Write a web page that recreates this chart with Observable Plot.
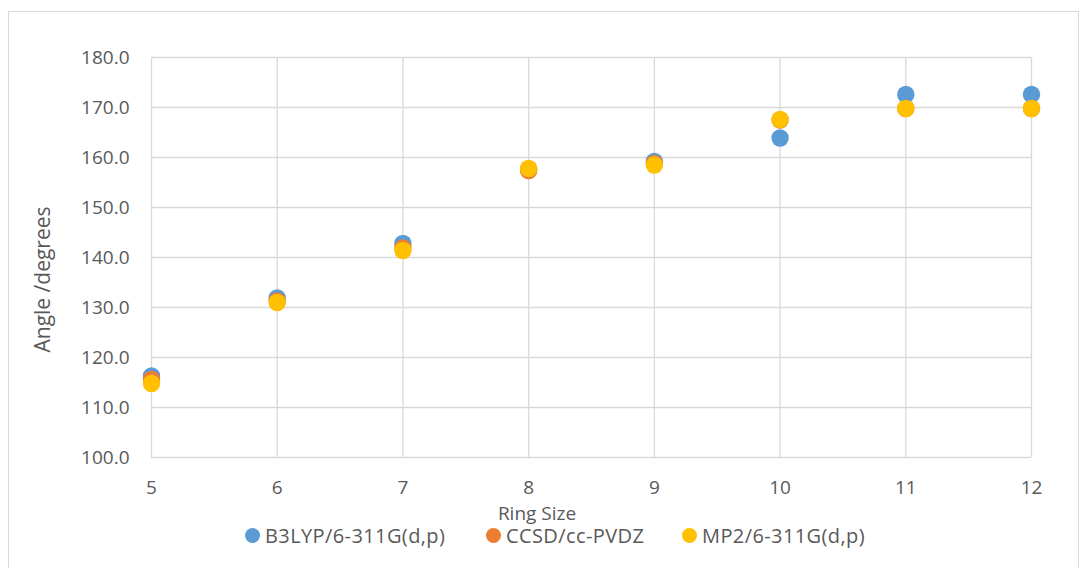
<!DOCTYPE html>
<html>
<head>
<meta charset="utf-8">
<script src="https://cdn.jsdelivr.net/npm/d3@7"></script>
<script src="https://cdn.jsdelivr.net/npm/@observablehq/plot@0.6"></script>
<style>
  html, body { margin: 0; padding: 0; background: #fff; }
  body { width: 1086px; height: 568px; position: relative; overflow: hidden; font-family: "Open Sans", "Liberation Sans", sans-serif; }
  #frame { position: absolute; left: 8px; top: 11px; width: 1071px; height: 570px; border: 1px solid #d9d9d9; box-sizing: border-box; }
  #chart { position: absolute; left: 0; top: 0; }
  #legend { position: absolute; top: 0; left: 0; width: 1086px; height: 568px; font-size: 20px; letter-spacing: 0.4px; color: #595959; }
  #legend .sw { position: absolute; width: 15px; height: 15px; border-radius: 50%; top: 528px; }
  #legend .txt { position: absolute; top: 526px; line-height: 20px; white-space: nowrap; }
</style>
</head>
<body>
<div id="frame"></div>
<div id="chart"></div>
<div id="legend"></div>
<script>
// Ring sizes and the computed angle (degrees) for each method
const ringSizes = [5, 6, 7, 8, 9, 10, 11, 12];
const b3lyp = [116.3, 131.9, 142.8, 157.6, 159.2, 163.9, 172.6, 172.6];
const ccsd  = [115.6, 131.3, 141.9, 157.4, 158.8, 167.5, 169.8, 169.8];
const mp2   = [114.8, 131.0, 141.4, 157.8, 158.5, 167.6, 169.8, 169.8];

const seriesNames  = ["B3LYP/6-311G(d,p)", "CCSD/cc-PVDZ", "MP2/6-311G(d,p)"];
const seriesValues = [b3lyp, ccsd, mp2];
const seriesColors = ["#5B9BD5", "#ED7D31", "#FFC000"];

const yTicks = [100, 110, 120, 130, 140, 150, 160, 170, 180];

const rows = seriesNames.flatMap((name, i) =>
  ringSizes.map((r, j) => ({series: name, ring: r, angle: seriesValues[i][j]}))
);

const grid = "#d9d9d9";
const textColor = "#595959";
const plot = Plot.plot({
  width: 1086,
  height: 568,
  marginLeft: 151,
  marginRight: 55,
  marginTop: 57,
  marginBottom: 111,
  style: {fontFamily: "'Open Sans', 'Liberation Sans', sans-serif", fontSize: "19px", color: textColor, background: "transparent", overflow: "visible"},
  x: {domain: [5, 12]},
  y: {domain: [100, 180]},
  color: {domain: seriesNames, range: seriesColors},
  marks: [
    Plot.gridX(ringSizes, {stroke: grid, strokeOpacity: 1, strokeWidth: 1.3}),
    Plot.gridY(yTicks, {stroke: grid, strokeOpacity: 1, strokeWidth: 1.3}),
    Plot.axisX(ringSizes, {tickSize: 0, tickPadding: 23, tickFormat: d3.format("d"), label: null, fontSize: 19}),
    Plot.axisY(yTicks, {tickSize: 0, tickPadding: 22, tickFormat: d3.format(".1f"), label: null, fontSize: 19}),
    // axis titles
    Plot.text(["Ring Size"], {frameAnchor: "bottom", text: d => d, dx: -54.5, dy: 56, fontSize: 19, fill: textColor, lineAnchor: "middle"}),
    Plot.text(["Angle /degrees"], {frameAnchor: "left", text: d => d, rotate: -90, dx: -108.5, dy: 22, fontSize: 21, fill: textColor, lineAnchor: "middle", textAnchor: "middle", style: {letterSpacing: "1.4px"}}),
    Plot.dot(rows, {x: "ring", y: "angle", fill: "series", r: 8.7, stroke: null})
  ]
});
document.getElementById("chart").appendChild(plot);

// Legend below the plot
const legendDotX = [252, 493, 689.5];
const legendTextX = [265, 506, 702];
const legend = document.getElementById("legend");
seriesNames.forEach((name, i) => {
  const sw = document.createElement("span");
  sw.className = "sw";
  sw.style.background = seriesColors[i];
  sw.style.left = (legendDotX[i] - 7.5) + "px";
  const label = document.createElement("span");
  label.className = "txt";
  label.style.left = legendTextX[i] + "px";
  label.textContent = name;
  legend.appendChild(sw);
  legend.appendChild(label);
});
</script>
</body>
</html>
